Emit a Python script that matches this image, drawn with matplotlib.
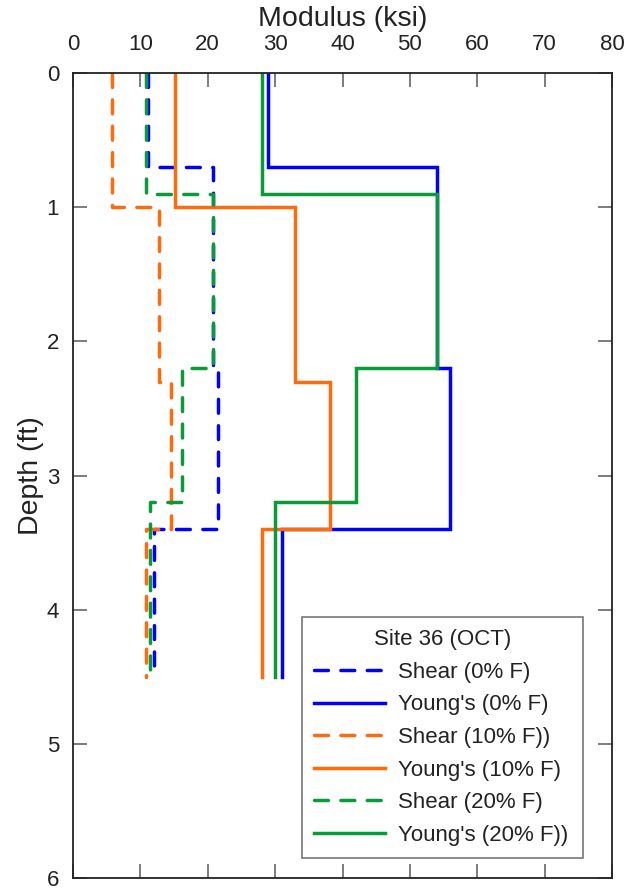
import numpy as np
import matplotlib
matplotlib.use("Agg")
import matplotlib.pyplot as plt

plt.rcParams['font.family'] = ['Liberation Sans', 'DejaVu Sans']

# Layer boundaries (ft) and modulus per layer (ksi)
shear0_depth = [0.0, 0.7, 2.2, 3.4, 4.5]
shear0_mod = [11.2, 20.8, 21.5, 12.0]
young0_depth = [0.0, 0.7, 2.2, 3.4, 4.5]
young0_mod = [29.0, 54.0, 56.0, 31.0]

shear10_depth = [0.0, 1.0, 2.3, 3.4, 4.5]
shear10_mod = [5.8, 12.7, 14.6, 10.9]
young10_depth = [0.0, 1.0, 2.3, 3.4, 4.5]
young10_mod = [15.1, 33.0, 38.1, 28.0]

shear20_depth = [0.0, 0.9, 2.2, 3.2, 4.5]
shear20_mod = [10.8, 20.8, 16.2, 11.5]
young20_depth = [0.0, 0.9, 2.2, 3.2, 4.5]
young20_mod = [28.0, 54.0, 42.0, 30.0]

labels = ["Shear (0% F)", "Young's (0% F)", "Shear (10% F))",
          "Young's (10% F)", "Shear (20% F)", "Young's (20% F))"]

BLUE = "#0000FF"
ORANGE = "#FF6A0A"
GREEN = "#0A9A3A"


def profile(depths, mods):
    """Turn layer boundaries and layer values into a stepped depth profile."""
    d = np.asarray(depths, dtype=float)
    m = np.asarray(mods, dtype=float)
    x = np.repeat(m, 2)
    y = np.column_stack([d[:-1], d[1:]]).ravel()
    return x, y


fig = plt.figure(figsize=(6.24, 8.90), dpi=100)
ax = fig.add_axes([73 / 624, 1 - 878 / 890, (612 - 73) / 624, (878 - 73) / 890])

dash = (0, (4.0, 3.6))
lw = 2.5
series = [
    (shear0_depth, shear0_mod, BLUE, dash),
    (young0_depth, young0_mod, BLUE, '-'),
    (shear10_depth, shear10_mod, ORANGE, dash),
    (young10_depth, young10_mod, ORANGE, '-'),
    (shear20_depth, shear20_mod, GREEN, dash),
    (young20_depth, young20_mod, GREEN, '-'),
]
for (dep, mod, col, ls), lab in zip(series, labels):
    x, y = profile(dep, mod)
    ax.plot(x, y, color=col, linestyle=ls, linewidth=lw, label=lab,
            solid_joinstyle='miter', dash_capstyle='round')

ax.set_xlim(0, 80)
ax.set_ylim(6, 0)
ax.set_xticks(np.arange(0, 81, 10))
ax.set_yticks(np.arange(0, 7, 1))

ax.xaxis.set_label_position('top')
ax.set_xlabel("Modulus (ksi)", fontsize=20.5, color='#222222', labelpad=6)
ax.set_ylabel("Depth (ft)", fontsize=20.5, color='#222222', labelpad=2)

ax.tick_params(axis='both', which='major', direction='in', length=10, width=1.2,
               color='#666666', labelsize=16, labelcolor='#222222',
               top=True, bottom=True, left=True, right=True,
               labeltop=True, labelbottom=False, labelleft=True, labelright=False)
ax.tick_params(axis='x', pad=13)
ax.tick_params(axis='y', pad=10)
for s in ax.spines.values():
    s.set_linewidth(1.3)
    s.set_color('#222222')

leg = ax.legend(title="Site 36 (OCT)", loc='lower left',
                bbox_to_anchor=(0.425, 0.025, 0.521, 0.30), mode='expand',
                fontsize=16, title_fontsize=16, frameon=True, fancybox=False,
                edgecolor='#555555', handlelength=3.2, handletextpad=0.55,
                labelspacing=0.52, borderpad=0.55, borderaxespad=0)
leg.get_frame().set_linewidth(1.2)
leg.get_title().set_color('#222222')
for t in leg.get_texts():
    t.set_color('#222222')

fig.savefig("out.png", dpi=100)
